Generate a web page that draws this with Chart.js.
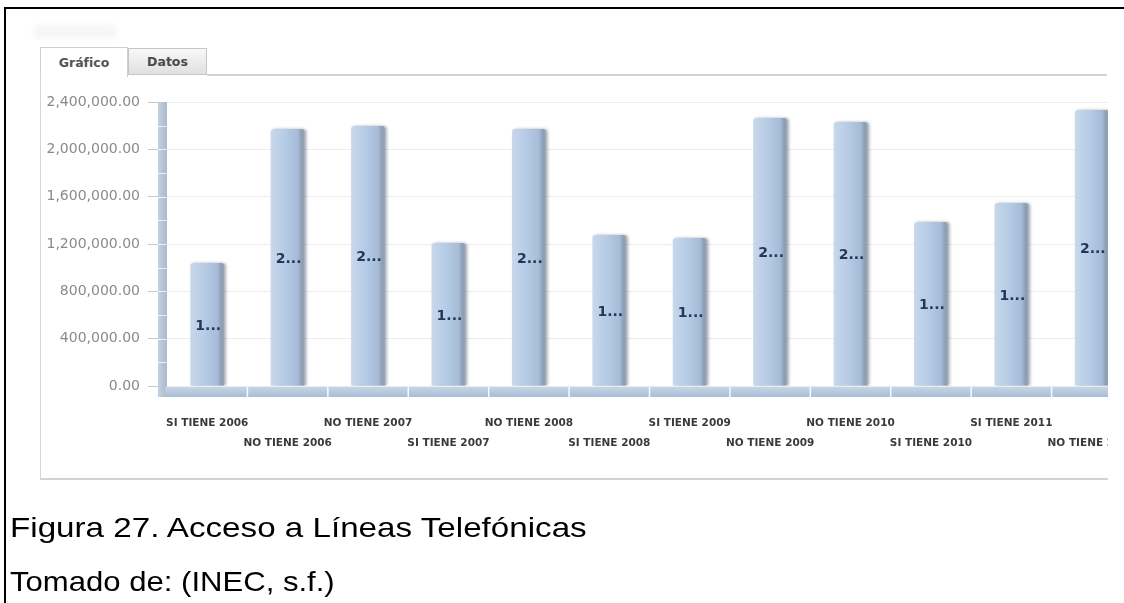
<!DOCTYPE html>
<html lang="es">
<head>
<meta charset="utf-8">
<title>Acceso a Líneas Telefónicas</title>
<script src="https://cdn.jsdelivr.net/npm/chart.js@4.4.1/dist/chart.umd.min.js"></script>
<style>
  html, body { margin: 0; padding: 0; background: #fff; }
  body { width: 1124px; height: 603px; position: relative; overflow: hidden; font-family: "DejaVu Sans", Verdana, sans-serif; }
  .rule-top { position: absolute; left: 4px; top: 7px; width: 1120px; height: 2px; background: #000; }
  .rule-left { position: absolute; left: 4px; top: 7px; width: 2px; height: 596px; background: #000; }
  .smudge { position: absolute; left: 34px; top: 25px; width: 82px; height: 13px; background: #f6f6f6; filter: blur(2px); }
  .tab { position: absolute; box-sizing: border-box; font-weight: bold; font-size: 12.5px; text-align: center; }
  .tab.on { left: 40px; top: 47px; width: 88px; height: 30px; background: #fff; border: 1px solid #cfcfcf; border-bottom: none; line-height: 29px; color: #555; }
  .tab.off { left: 128px; top: 48px; width: 79px; height: 27px; background: linear-gradient(#f8f8f8, #e0e0e0); border: 1px solid #c6c6c6; line-height: 25px; color: #4a4a4a; }
  .strip { position: absolute; left: 207px; top: 74px; width: 900px; height: 2px; background: #d3d3d3; }
  .panel { position: absolute; left: 40px; top: 76px; width: 1067px; height: 402px; border-left: 1px solid #d6d6d6; border-bottom: 2px solid #d2d2d2; overflow: hidden; }
  .panel canvas { position: absolute; left: 0; top: 0; }
  .cap { position: absolute; left: 10px; font-family: "Liberation Sans", Arial, sans-serif; font-size: 28px; line-height: 28px; color: #000; white-space: nowrap; transform-origin: 0 0; }
</style>
</head>
<body>
<div class="rule-top"></div>
<div class="rule-left"></div>
<div class="smudge"></div>
<div class="tab on">Gráfico</div>
<div class="tab off">Datos</div>
<div class="strip"></div>
<div class="panel"><canvas id="chart" width="1100" height="402"></canvas></div>
<div class="cap" style="top:514px; transform:scaleX(1.185)">Figura 27. Acceso a Líneas Telefónicas</div>
<div class="cap" style="top:568px; transform:scaleX(1.11)">Tomado de: (INEC, s.f.)</div>

<script>
// Hogares con / sin línea telefónica, por año
const categories = [
  'SI TIENE 2006', 'NO TIENE 2006', 'NO TIENE 2007', 'SI TIENE 2007',
  'NO TIENE 2008', 'SI TIENE 2008', 'SI TIENE 2009', 'NO TIENE 2009',
  'NO TIENE 2010', 'SI TIENE 2010', 'SI TIENE 2011', 'NO TIENE 2011'
];
const hogares = [
  1039000, 2172000, 2197000, 1208000,
  2172000, 1276000, 1251000, 2265000,
  2231000, 1386000, 1546000, 2332000
];
const yTickValues = [0, 400000, 800000, 1200000, 1600000, 2000000, 2400000];

const fmt = v => v.toLocaleString('en-US', { minimumFractionDigits: 2, maximumFractionDigits: 2 });
// value labels are cut to the first character, as the widget does
const shortLabel = v => fmt(v).charAt(0) + '...';

const BAR_FRACTION = 0.42;

function barGradient(ctx) {
  const chart = ctx.chart;
  const xs = chart.scales && chart.scales.x;
  if (!xs || ctx.dataIndex === undefined || !chart.chartArea) return '#b4cae4';
  const cx = xs.getPixelForValue(ctx.dataIndex);
  const w = xs.width / categories.length * BAR_FRACTION;
  const g = chart.ctx.createLinearGradient(cx - w / 2, 0, cx + w / 2, 0);
  g.addColorStop(0, '#c8d8ec');
  g.addColorStop(0.45, '#b5cae4');
  g.addColorStop(0.8, '#a5bbd7');
  g.addColorStop(0.92, '#8d9db3');
  g.addColorStop(1, '#98a4b4');
  return g;
}

// 3D-style axis bands drawn with the scales
const axisBands = {
  id: 'axisBands',
  beforeDatasetsDraw(chart) {
    const { ctx, chartArea, scales } = chart;
    const y = scales.y;
    const top = y.getPixelForValue(yTickValues[yTickValues.length - 1]);
    const bottom = y.getPixelForValue(0) + 11;
    const left = chartArea.left - 9;
    ctx.save();
    const g = ctx.createLinearGradient(left, 0, chartArea.left, 0);
    g.addColorStop(0, '#c4d1df');
    g.addColorStop(1, '#a9bacd');
    ctx.fillStyle = g;
    ctx.fillRect(left, top, 9, bottom - top);
    ctx.strokeStyle = 'rgba(255,255,255,0.75)';
    ctx.lineWidth = 1;
    for (let v = 200000; v < yTickValues[yTickValues.length - 1]; v += 200000) {
      const py = Math.round(y.getPixelForValue(v)) + 0.5;
      ctx.beginPath();
      ctx.moveTo(left, py);
      ctx.lineTo(chartArea.left, py);
      ctx.stroke();
    }
    ctx.restore();
  },
  afterDatasetsDraw(chart) {
    const { ctx, chartArea, scales } = chart;
    const x = scales.x, y = scales.y;
    const y0 = y.getPixelForValue(0) + 1;
    const left = chartArea.left - 2;
    const right = chart.width;
    ctx.save();
    const g = ctx.createLinearGradient(0, y0, 0, y0 + 10);
    g.addColorStop(0, '#c6d5e7');
    g.addColorStop(1, '#a8bcd5');
    ctx.fillStyle = g;
    ctx.fillRect(left, y0, right - left, 10);
    ctx.strokeStyle = 'rgba(255,255,255,0.9)';
    ctx.lineWidth = 1.5;
    for (let i = 1; i <= categories.length; i++) {
      const px = (x.getPixelForValue(i - 1) + x.getPixelForValue(i)) / 2;
      ctx.beginPath();
      ctx.moveTo(px, y0);
      ctx.lineTo(px, y0 + 10);
      ctx.stroke();
    }
    ctx.restore();

    // value labels in the middle of each bar
    const meta = chart.getDatasetMeta(0);
    ctx.save();
    ctx.font = 'bold 14px "DejaVu Sans", Verdana, sans-serif';
    ctx.fillStyle = '#22385a';
    ctx.textAlign = 'center';
    ctx.textBaseline = 'middle';
    meta.data.forEach((bar, i) => {
      ctx.fillText(shortLabel(hogares[i]), bar.x + 1, (bar.y + bar.base) / 2 + 2);
    });
    ctx.restore();
  }
};

// soft shadow to the right of each bar
const barShadow = {
  id: 'barShadow',
  beforeDatasetDraw(chart) {
    const ctx = chart.ctx;
    ctx.save();
    ctx.shadowColor = 'rgba(70,80,100,0.45)';
    ctx.shadowBlur = 3;
    ctx.shadowOffsetX = 2;
    ctx.shadowOffsetY = 0;
  },
  afterDatasetDraw(chart) {
    chart.ctx.restore();
  }
};

new Chart(document.getElementById('chart'), {
  type: 'bar',
  data: {
    labels: categories,
    datasets: [{
      data: hogares,
      backgroundColor: barGradient,
      borderWidth: 0,
      borderRadius: { topLeft: 3, topRight: 3, bottomLeft: 0, bottomRight: 0 },
      borderSkipped: false,
      barPercentage: BAR_FRACTION,
      categoryPercentage: 1
    }]
  },
  options: {
    responsive: false,
    devicePixelRatio: 1,
    animation: false,
    layout: { padding: { top: 26, right: 9, left: 0, bottom: 0 } },
    plugins: { legend: { display: false }, tooltip: { enabled: false } },
    scales: {
      x: {
        grid: { display: false, drawTicks: false },
        border: { display: false },
        ticks: {
          autoSkip: false,
          maxRotation: 0,
          minRotation: 0,
          padding: 27,
          color: '#3a3a3a',
          font: { family: '"DejaVu Sans", Verdana, sans-serif', size: 10.5, weight: 'bold', lineHeight: '20px' },
          callback: (v, i) => (i % 2 === 0 ? [categories[i], ''] : ['', categories[i]])
        },
        afterFit(s) {
          s.height = 92;
          s.paddingLeft = 0;
          s.paddingRight = 0;
        }
      },
      y: {
        min: 0,
        max: yTickValues[yTickValues.length - 1],
        afterBuildTicks(s) { s.ticks = yTickValues.map(v => ({ value: v })); },
        grid: { color: '#ececec', lineWidth: 1, drawTicks: true, tickLength: 19, tickColor: '#c9c9c9' },
        border: { display: false },
        ticks: {
          padding: 8,
          color: '#8a8a8a',
          font: { family: '"DejaVu Sans", Verdana, sans-serif', size: 14 },
          callback: v => fmt(v)
        },
        afterFit(s) {
          s.width = 126;
          s.paddingTop = 0;
          s.paddingBottom = 0;
        }
      }
    }
  },
  plugins: [barShadow, axisBands]
});
</script>
</body>
</html>
